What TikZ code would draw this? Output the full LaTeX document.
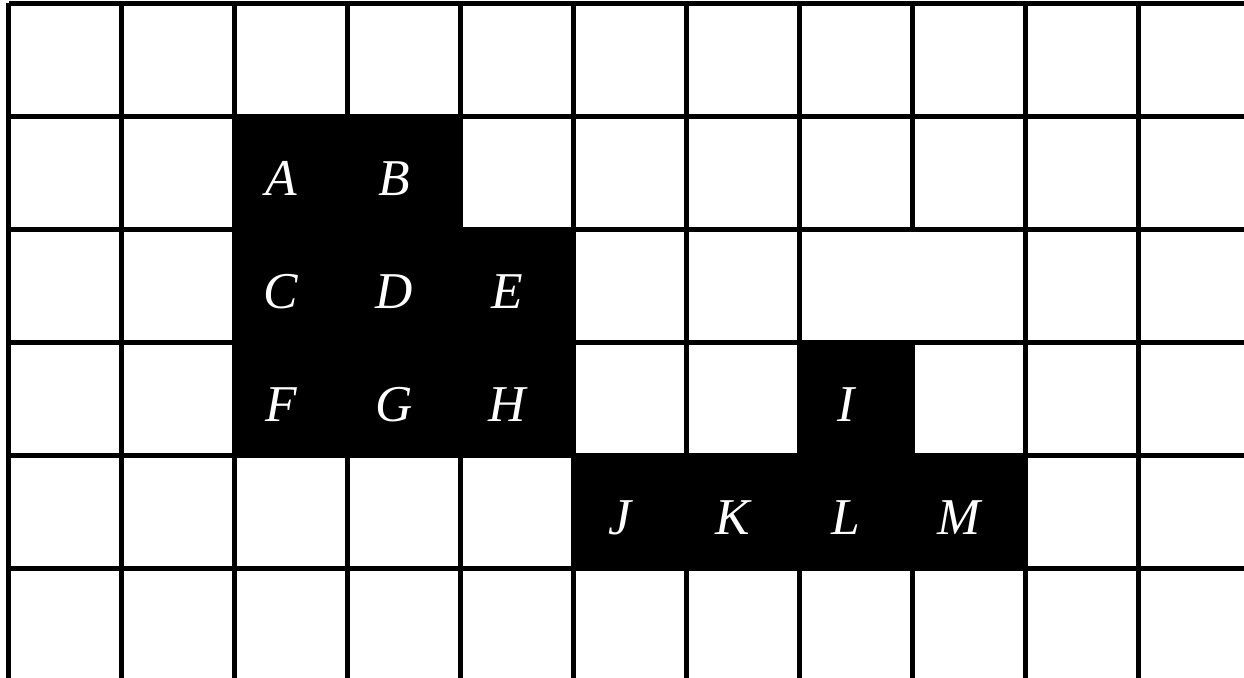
\documentclass[tikz,border=0pt]{standalone}
\usepackage{fontspec}
\setmainfont{Liberation Serif}
\usepackage{tikz}

\begin{document}
\begin{tikzpicture}[x=1cm, y=-1cm, line width=1.3pt,
    lbl/.style={text=white, font=\fontsize{13}{15}\selectfont\itshape, xshift=-0.09cm, yshift=-0.05cm}]
    \useasboundingbox (-0.078,-0.031) rectangle (10.93,5.96);
    \clip (-0.078,-0.031) rectangle (10.93,5.96);
    % grid
    \foreach \r in {0,...,7} \draw (0,\r) -- (12,\r);
    \foreach \c in {0,1,...,7,9,10,11} \draw (\c,0) -- (\c,7);
    \draw (8,0) -- (8,2);
    \draw (8,3) -- (8,7);
    % black cells with their labels
    \foreach \c/\r/\t in {2/1/A, 3/1/B, 2/2/C, 3/2/D, 4/2/E, 2/3/F, 3/3/G, 4/3/H,
                          7/3/I, 5/4/J, 6/4/K, 7/4/L, 8/4/M} {
        \fill (\c,\r) rectangle ++(1,1);
        \node[lbl] (cell\t) at (\c+0.5,\r+0.5) {\t};
    }
\end{tikzpicture}
\end{document}
